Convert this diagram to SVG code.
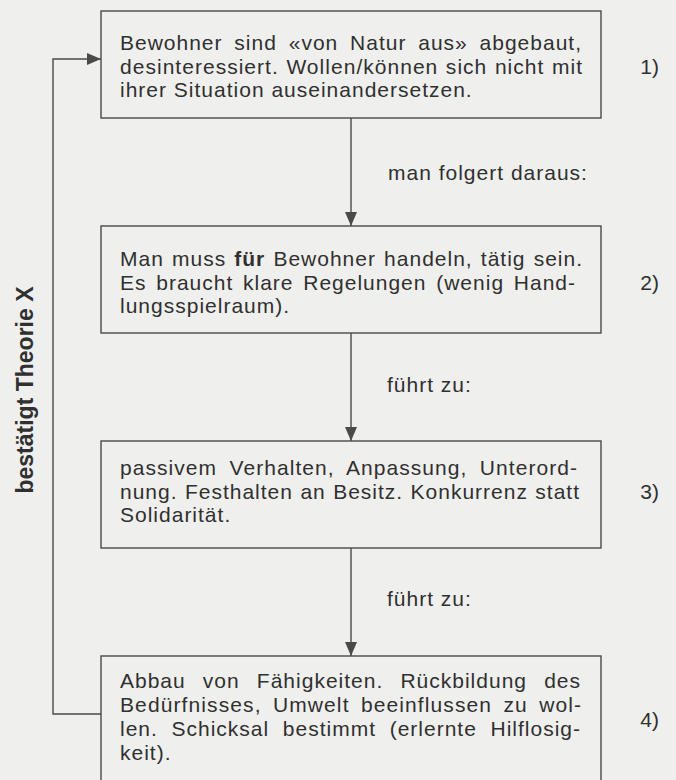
<svg xmlns="http://www.w3.org/2000/svg" width="676" height="780" viewBox="0 0 676 780">
  <style>
    .bg { fill: #efefed; }
    .box { fill: none; stroke: #4a4a4a; stroke-width: 1.4; }
    .conn { fill: none; stroke: #4a4a4a; stroke-width: 1.4; }
    .t { font-family: "Liberation Sans", Arial, Helvetica, sans-serif; font-size: 21px; letter-spacing: 1px; fill: #303030; }
    .b { font-weight: bold; }
    .v { font-family: "Liberation Sans", Arial, Helvetica, sans-serif; font-size: 23px; font-weight: bold; fill: #303030; }
    .num { font-family: "Liberation Sans", Arial, Helvetica, sans-serif; font-size: 21px; fill: #303030; text-anchor: end; }
  </style>
  <defs>
    <marker id="ah" markerUnits="userSpaceOnUse" markerWidth="15" markerHeight="13" refX="14" refY="6" orient="auto">
      <path d="M0,0 L14,6 L0,12 Z" fill="#4a4a4a"/>
    </marker>
  </defs>
  <rect class="bg" x="0" y="0" width="676" height="780"/>

  <g id="connectors">
    <line class="conn" x1="351" y1="118" x2="351" y2="226" marker-end="url(#ah)"/>
    <line class="conn" x1="351" y1="333" x2="351" y2="441" marker-end="url(#ah)"/>
    <line class="conn" x1="351" y1="548" x2="351" y2="656" marker-end="url(#ah)"/>
    <polyline class="conn" points="101,714 53,714 53,59 101,59" marker-end="url(#ah)"/>
    <text class="t" x="388" y="180">man folgert daraus:</text>
    <text class="t" x="387" y="392">führt zu:</text>
    <text class="t" x="387" y="606">führt zu:</text>
    <text class="v" transform="translate(33,390) rotate(-90)" text-anchor="middle">bestätigt Theorie X</text>
  </g>

  <g id="node1">
    <rect class="box" x="101" y="11" width="500" height="107"/>
    <text class="t" x="120" y="50" word-spacing="5" textLength="462" lengthAdjust="spacing">Bewohner sind «von Natur aus» abgebaut,</text>
    <text class="t" x="120" y="73.5" word-spacing="0.7" textLength="463" lengthAdjust="spacing">desinteressiert. Wollen/können sich nicht mit</text>
    <text class="t" x="120" y="97">ihrer Situation auseinandersetzen.</text>
    <text class="num" x="659" y="74">1)</text>
  </g>

  <g id="node2">
    <rect class="box" x="101" y="226" width="500" height="107"/>
    <text class="t" x="120" y="266" word-spacing="1.3" textLength="463" lengthAdjust="spacing">Man muss <tspan class="b">für</tspan> Bewohner handeln, tätig sein.</text>
    <text class="t" x="120" y="290" word-spacing="2.9" textLength="456" lengthAdjust="spacing">Es braucht klare Regelungen (wenig Hand-</text>
    <text class="t" x="120" y="313">lungsspielraum).</text>
    <text class="num" x="659" y="290">2)</text>
  </g>

  <g id="node3">
    <rect class="box" x="101" y="441" width="500" height="107"/>
    <text class="t" x="120" y="475" word-spacing="5.5" textLength="458" lengthAdjust="spacing">passivem Verhalten, Anpassung, Unterord-</text>
    <text class="t" x="120" y="498.5" word-spacing="0.6" textLength="460" lengthAdjust="spacing">nung. Festhalten an Besitz. Konkurrenz statt</text>
    <text class="t" x="120" y="522">Solidarität.</text>
    <text class="num" x="659" y="499">3)</text>
  </g>

  <g id="node4">
    <rect class="box" x="101" y="656" width="500" height="140"/>
    <text class="t" x="120" y="688" word-spacing="10.3" textLength="461" lengthAdjust="spacing">Abbau von Fähigkeiten. Rückbildung des</text>
    <text class="t" x="120" y="712" word-spacing="4.4" textLength="462" lengthAdjust="spacing">Bedürfnisses, Umwelt beeinflussen zu wol-</text>
    <text class="t" x="120" y="736" word-spacing="6.8" textLength="461" lengthAdjust="spacing">len. Schicksal bestimmt (erlernte Hilflosig-</text>
    <text class="t" x="120" y="759.5">keit).</text>
    <text class="num" x="659" y="727">4)</text>
  </g>
</svg>
